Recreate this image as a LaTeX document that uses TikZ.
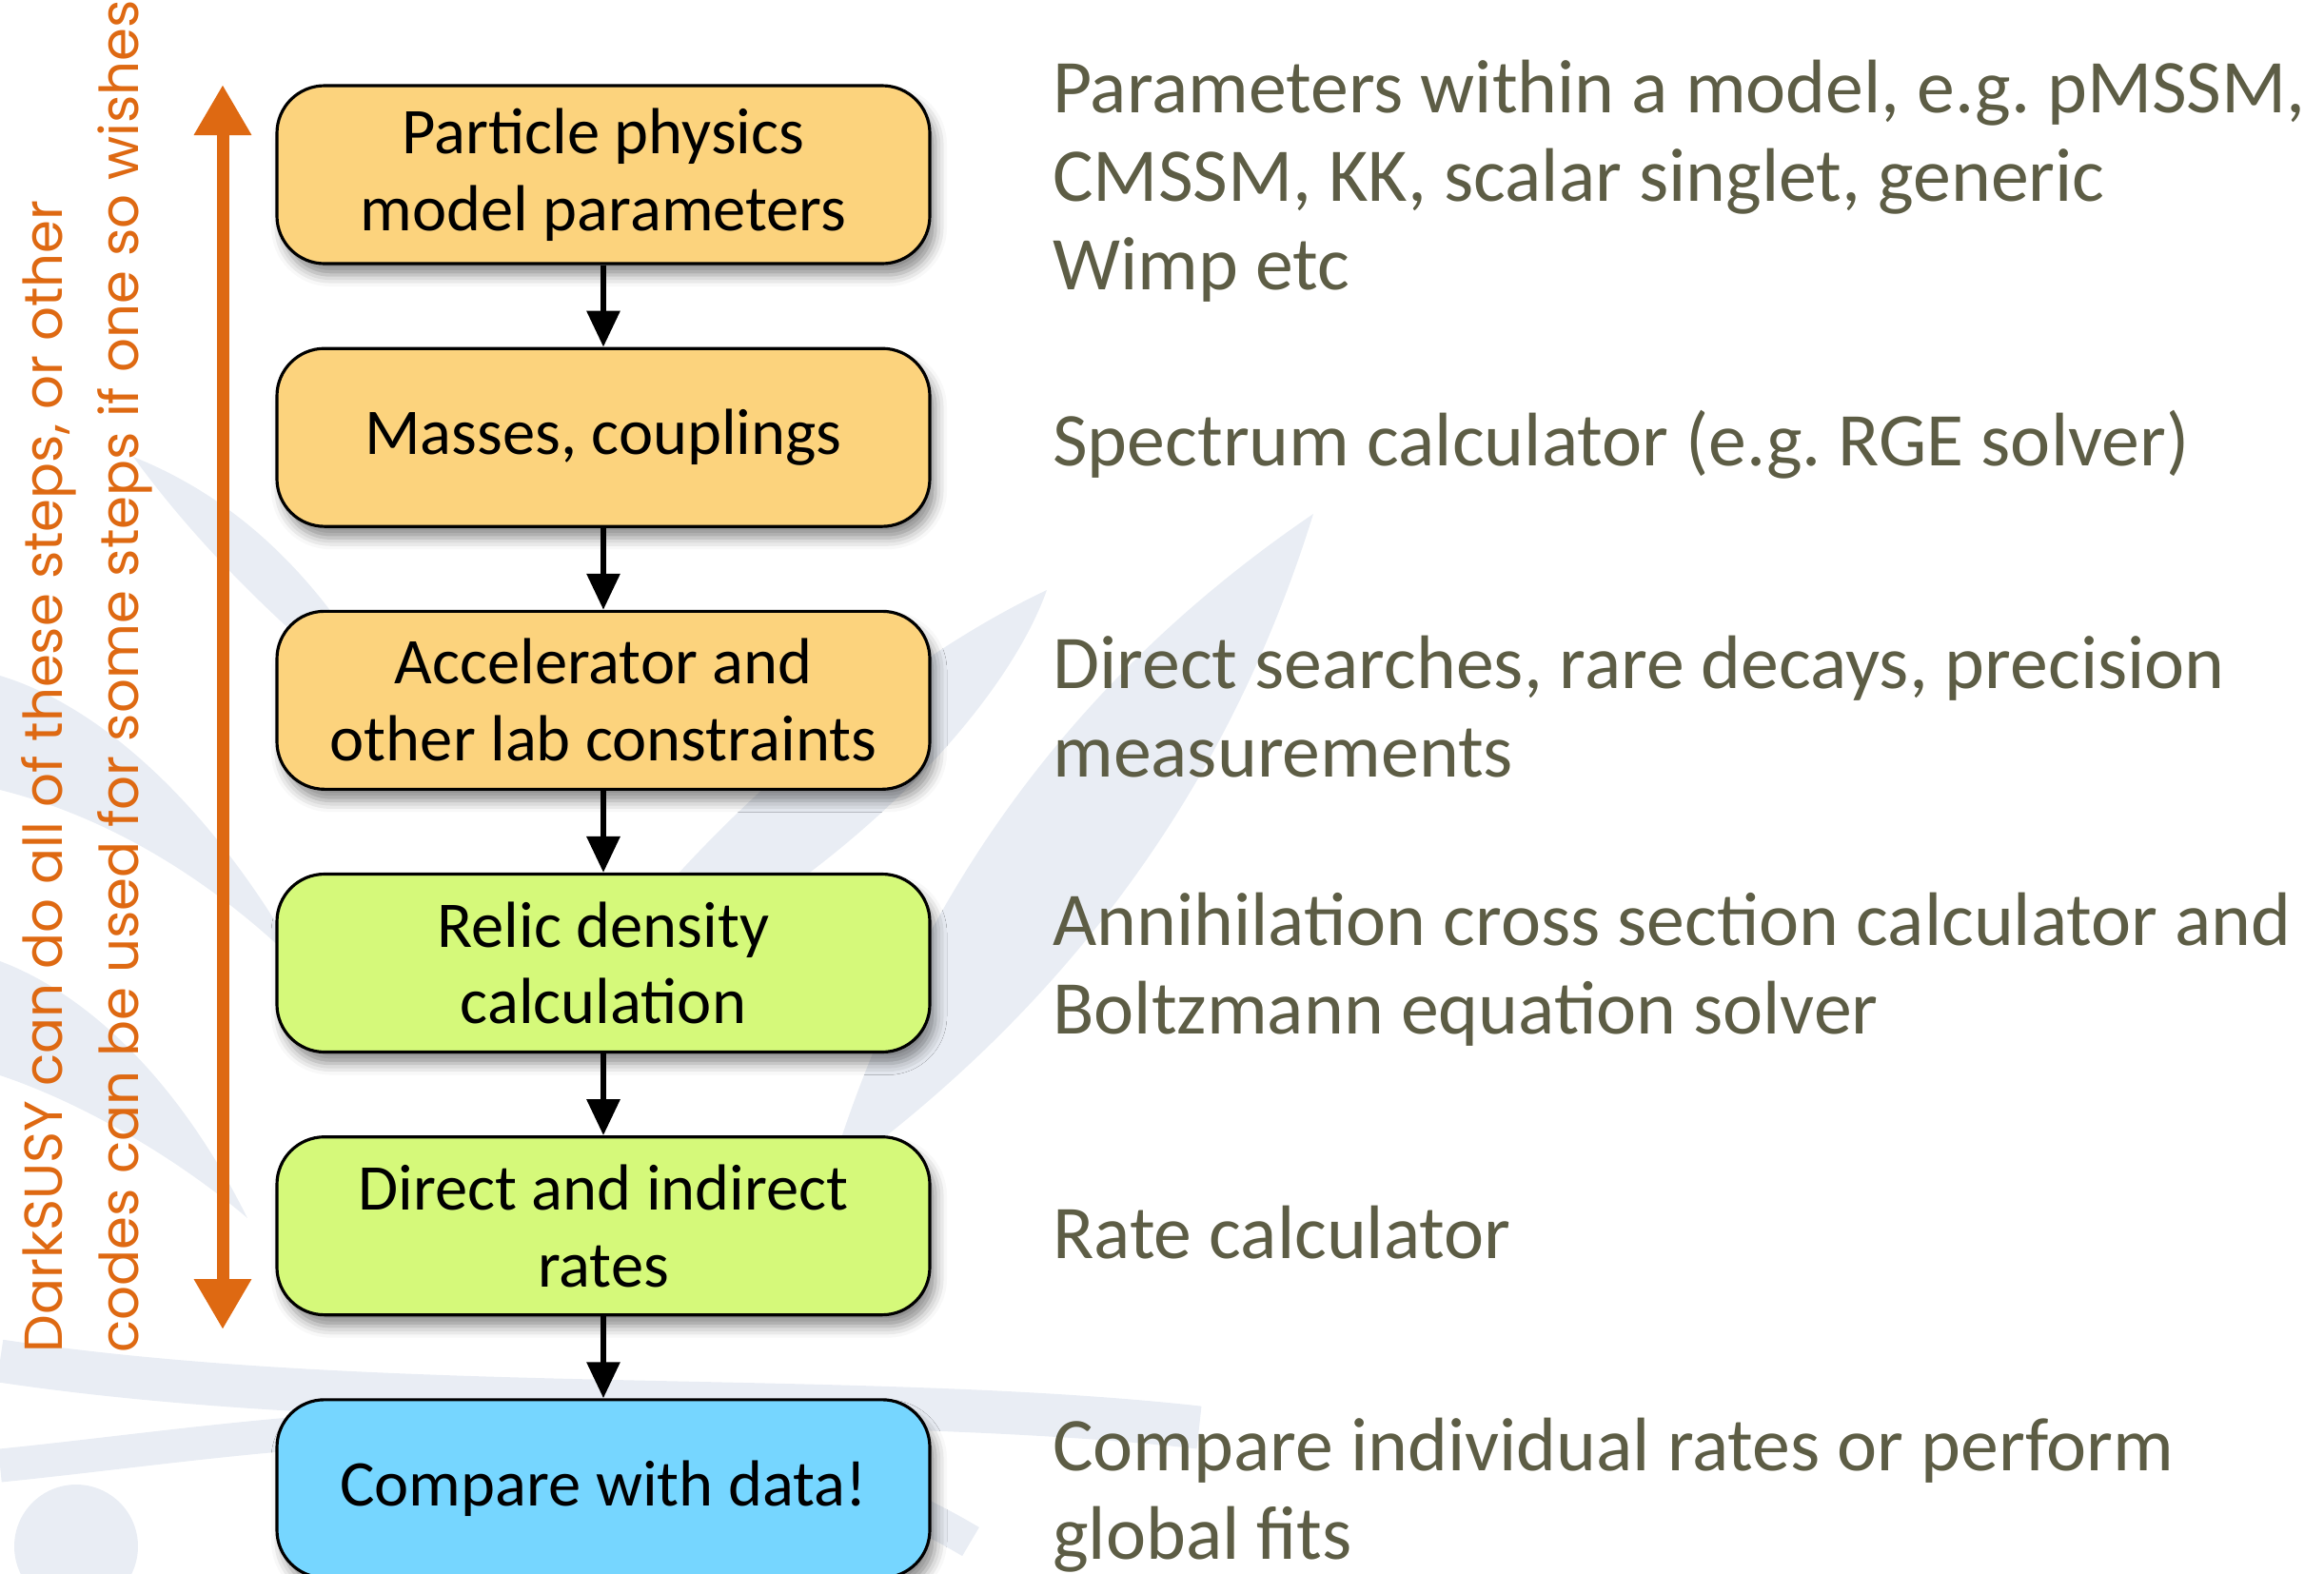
\documentclass[tikz,border=0pt]{standalone}
\usepackage{fontspec}
\setmainfont{Carlito}
\newfontfamily\sidefont{Poppins}
\frenchspacing
\usetikzlibrary{positioning,arrows.meta,shadows.blur}
\definecolor{boxorange}{RGB}{252,211,125}
\definecolor{boxgreen}{RGB}{213,249,122}
\definecolor{boxblue}{RGB}{118,214,255}
\definecolor{spanorange}{RGB}{222,105,18}
\definecolor{desctext}{RGB}{93,93,69}
\definecolor{wmark}{RGB}{233,237,244}
\tikzset{
  stepbox/.style={draw=black,line width=0.9pt,rounded corners=0.5cm,minimum width=6.86cm,minimum height=1.87cm,align=center,inner sep=2pt,font=\fontsize{19.5}{23}\selectfont,blur shadow={shadow xshift=0.06cm,shadow yshift=-0.12cm,shadow blur radius=0.12cm,shadow opacity=45}},
  desc/.style={text=desctext,align=left,inner sep=0pt,yshift=-0.07cm,font=\fontsize{22.7}{26.5}\selectfont},
  sidenote/.style={text=spanorange,align=left,inner sep=0pt,font=\sidefont\fontsize{16}{22.8}\selectfont},
  flow/.style={line width=1.8pt,-{Triangle[width=0.34cm,length=0.38cm]}},
  spanarrow/.style={draw=spanorange,line width=3.7pt,{Triangle[width=0.57cm,length=0.53cm]}-{Triangle[width=0.57cm,length=0.53cm]}},
  leaf/.style={fill=wmark,draw=none},
}

\begin{document}
\begin{tikzpicture}[x=1cm,y=1cm]
  \useasboundingbox (0,0) rectangle (24.42,-16.53);
  \fill[leaf] (8.7,-12.4) .. controls (11.2,-10.6) and (12.9,-8.3) .. (13.8,-5.4) .. controls (11.3,-7.1) and (9.6,-9.4) .. cycle;
  \fill[leaf] (6.0,-10.6) .. controls (8.5,-9.6) and (10.5,-7.6) .. (11.0,-6.2) .. controls (9.3,-7.0) and (7.2,-8.8) .. cycle;
  \fill[leaf] (2.6,-12.8) .. controls (1.8,-11.2) and (0.8,-10.4) .. (0,-10.1) -- (0,-11.3) .. controls (0.9,-11.6) and (1.9,-12.2) .. cycle;
  \fill[leaf] (3.2,-10.2) .. controls (2.2,-8.4) and (1.0,-7.4) .. (0,-7.1) -- (0,-8.3) .. controls (1.2,-8.6) and (2.3,-9.3) .. cycle;
  \fill[leaf] (4.2,-7.6) .. controls (3.4,-6.0) and (2.4,-5.2) .. (1.4,-4.8) .. controls (2.2,-5.9) and (3.2,-6.8) .. cycle;
  \draw[wmark,line width=0.45cm] (0,-14.3) .. controls (4,-14.9) and (9,-14.6) .. (12.6,-15.0);
  \draw[wmark,line width=0.35cm] (0,-15.4) .. controls (3,-15.1) and (7,-14.3) .. (10.2,-16.2);
  \fill[wmark] (0.8,-16.25) circle (0.65);

  \node[stepbox,fill=boxorange] (model) at (6.34,-1.835) {Particle physics\\model parameters};
  \node[stepbox,fill=boxorange,below=0.86cm of model] (masses) {Masses, couplings};
  \node[stepbox,fill=boxorange,below=0.86cm of masses] (lab) {Accelerator and\\other lab constraints};
  \node[stepbox,fill=boxgreen,below=0.86cm of lab] (relic) {Relic density\\calculation};
  \node[stepbox,fill=boxgreen,below=0.86cm of relic] (rates) {Direct and indirect\\rates};
  \node[stepbox,fill=boxblue,below=0.86cm of rates] (compare) {Compare with data!};

  \foreach \a/\b in {model/masses,masses/lab,lab/relic,relic/rates,rates/compare}
    \draw[flow] (\a) -- (\b);

  \node[desc,right=1.27cm of model] (modeldesc) {Parameters within a model, e.g. pMSSM,\\CMSSM, KK, scalar singlet, generic\\Wimp etc};
  \node[desc,right=1.27cm of masses] (massesdesc) {Spectrum calculator (e.g. RGE solver)};
  \node[desc,right=1.27cm of lab] (labdesc) {Direct searches, rare decays, precision\\measurements};
  \node[desc,right=1.27cm of relic] (relicdesc) {Annihilation cross section calculator and\\Boltzmann equation solver};
  \node[desc,right=1.27cm of rates] (ratesdesc) {Rate calculator};
  \node[desc,right=1.27cm of compare] (comparedesc) {Compare individual rates or perform\\global fits};

  \coordinate (spantop) at (2.34,-0.89);
  \coordinate (spanbot) at (2.34,-13.97);
  \draw[spanarrow] (spanbot) -- (spantop);
  \node[sidenote,rotate=90,anchor=north west] (sidetext) at (0.22,-14.22) {DarkSUSY can do all of these steps, or other\\codes can be used for some steps if one so wishes};
\end{tikzpicture}
\end{document}
